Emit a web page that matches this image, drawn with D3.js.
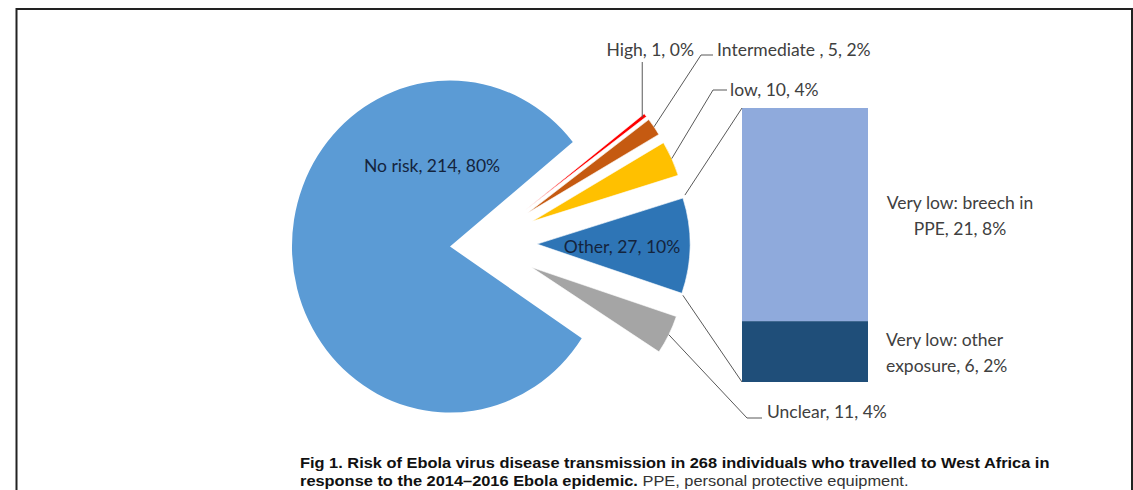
<!DOCTYPE html>
<html>
<head>
<meta charset="utf-8">
<script src="https://cdn.jsdelivr.net/npm/d3@7"></script>
<style>
  html, body { margin: 0; padding: 0; background: #fff; }
  svg { display: block; }
</style>
</head>
<body>
<svg id="chart" width="1133" height="490"></svg>
<script>
// ---------------- data ----------------
const categories = ["High", "Intermediate", "low", "Other", "Unclear", "No risk"];
const counts     = [1, 5, 10, 27, 11, 214];
const percents   = ["0%", "2%", "4%", "10%", "4%", "80%"];
const labelNames = ["High", "Intermediate ", "low", "Other", "Unclear", "No risk"];

const barCategories = ["Very low: other exposure", "Very low: breech in PPE"];
const barCounts     = [6, 21];
const barPercents   = ["2%", "8%"];

const captionBold1 = "Fig 1. Risk of Ebola virus disease transmission in 268 individuals who travelled to West Africa in";
const captionBold2 = "response to the 2014\u20132016 Ebola epidemic.";
const captionNorm2 = " PPE, personal protective equipment.";

// ---------------- styles / layout ----------------
const sliceColors = ["#FF0000", "#C55A11", "#FFC000", "#2E75B6", "#A5A5A5", "#5B9BD5"];
const barColors   = ["#1F4E79", "#8FAADC"];
const deg = Math.PI / 180;

const svg = d3.select("#chart");

// frame
svg.append("rect")
  .attr("x", 16.5).attr("y", 9).attr("width", 1115.5).attr("height", 520)
  .attr("fill", "none").attr("stroke", "#222").attr("stroke-width", 2);

const pie = d3.pie().sort(null).value(d => d.count)
  .startAngle(51 * deg).endAngle(51 * deg + 2 * Math.PI);
const data = categories.map((c, i) => ({ cat: c, count: counts[i], pct: percents[i], name: labelNames[i], color: sliceColors[i] }));
const arcsData = pie(data);

// main slice (No risk)
const mainCx = 450, mainCy = 246.5, mainR = 166, mainSx = 0.952;
const mainG = svg.append("g").attr("transform", `translate(${mainCx},${mainCy}) scale(${mainSx},1)`);
const mainArc = d3.arc().innerRadius(0).outerRadius(mainR);
const mainD = arcsData[5];
mainG.append("path").attr("d", mainArc(mainD)).attr("fill", mainD.data.color);

// small slices
const smCx = 483, smCy = 243.5, smR = 153, explode = 54;
const smallG = svg.append("g").attr("transform", `translate(${smCx},${smCy})`);
const smArc = d3.arc().innerRadius(0).outerRadius(smR);
const polar = (a, r) => [r * Math.sin(a), -r * Math.cos(a)];
const smallArcs = arcsData.slice(0, 5);
smallArcs.forEach(d => {
  const mid = (d.startAngle + d.endAngle) / 2;
  const [ox, oy] = polar(mid, explode);
  d.ox = ox; d.oy = oy;
});
smallG.selectAll("path.slice").data(smallArcs).join("path")
  .attr("class", "slice")
  .attr("transform", d => `translate(${d.ox},${d.oy})`)
  .attr("d", smArc)
  .attr("fill", d => d.data.color)
  .attr("stroke", "#fff").attr("stroke-width", 0.6);

function slicePoint(d, a, r) {
  const [px, py] = polar(a, r);
  return [smCx + d.ox + px, smCy + d.oy + py];
}

// ---------------- bar ----------------
const barX0 = 742, barX1 = 868;
const yBar = d3.scaleLinear().domain([0, d3.sum(barCounts)]).range([382, 108]);
const stackRows = [Object.fromEntries(barCategories.map((c, i) => [c, barCounts[i]]))];
const stacked = d3.stack().keys(barCategories)(stackRows);
svg.append("g").selectAll("rect").data(stacked).join("rect")
  .attr("x", barX0).attr("width", barX1 - barX0)
  .attr("y", d => yBar(d[0][1]))
  .attr("height", d => yBar(d[0][0]) - yBar(d[0][1]))
  .attr("fill", (d, i) => barColors[i]);

// connector lines from "Other" slice to bar
const other = smallArcs[3];
const lineColor = "#595959";
const conn = svg.append("g").attr("stroke", lineColor).attr("stroke-width", 1).attr("fill", "none");
const oTop = slicePoint(other, other.startAngle, smR);
const oBot = slicePoint(other, other.endAngle, smR);
conn.append("line").attr("x1", oTop[0] + 2).attr("y1", oTop[1] - 3).attr("x2", barX0).attr("y2", yBar(d3.sum(barCounts)));
conn.append("line").attr("x1", oBot[0] + 1).attr("y1", oBot[1] + 2).attr("x2", barX0).attr("y2", yBar(0));

// ---------------- labels ----------------
const labelFont = "Lato, 'Open Sans', sans-serif";
const fs = 17.5;
const outColor = "#404040", inColor = "#14243d";
const fmt = d => `${d.data.name}, ${d.data.count}, ${d.data.pct}`;

// inside labels
svg.append("text").attr("x", 432).attr("y", 172).attr("text-anchor", "middle")
  .attr("font-family", labelFont).attr("font-size", fs).attr("fill", inColor)
  .text(fmt(mainD));
svg.append("text").attr("x", 622).attr("y", 253).attr("text-anchor", "middle")
  .attr("font-family", labelFont).attr("font-size", fs).attr("fill", inColor)
  .text(fmt(other));

// leader lines + outside labels
const leaders = svg.append("g").attr("stroke", lineColor).attr("stroke-width", 1).attr("fill", "none");
const high = smallArcs[0], inter = smallArcs[1], low = smallArcs[2], unclear = smallArcs[4];
const midA = d => (d.startAngle + d.endAngle) / 2;

const pH = slicePoint(high, midA(high), smR - 4);
leaders.append("polyline").attr("points", [[pH[0], pH[1]], [pH[0], 62]].join(" "));
svg.append("text").attr("x", 694).attr("y", 56).attr("text-anchor", "end")
  .attr("font-family", labelFont).attr("font-size", fs).attr("fill", outColor).text(fmt(high));

const pI = slicePoint(inter, midA(inter), smR);
leaders.append("polyline").attr("points", [[pI[0], pI[1]], [701, 55], [713, 55]].join(" "));
svg.append("text").attr("x", 717).attr("y", 56)
  .attr("font-family", labelFont).attr("font-size", fs).attr("fill", outColor).text(fmt(inter));

const pL = slicePoint(low, midA(low), smR);
leaders.append("polyline").attr("points", [[pL[0], pL[1]], [713, 90], [727, 90]].join(" "));
svg.append("text").attr("x", 730).attr("y", 96)
  .attr("font-family", labelFont).attr("font-size", fs).attr("fill", outColor).text(fmt(low));

const pU = slicePoint(unclear, midA(unclear), smR);
leaders.append("polyline").attr("points", [[pU[0], pU[1]], [747, 418], [762, 418]].join(" "));
svg.append("text").attr("x", 767).attr("y", 418)
  .attr("font-family", labelFont).attr("font-size", fs).attr("fill", outColor).text(fmt(unclear));

// bar labels
const ppeLbl = svg.append("text").attr("text-anchor", "middle")
  .attr("font-family", labelFont).attr("font-size", fs).attr("fill", outColor);
ppeLbl.append("tspan").attr("x", 960).attr("y", 209).text("Very low: breech in");
ppeLbl.append("tspan").attr("x", 960).attr("y", 235).text(`PPE, ${barCounts[1]}, ${barPercents[1]}`);

const othLbl = svg.append("text")
  .attr("font-family", labelFont).attr("font-size", fs).attr("fill", outColor);
othLbl.append("tspan").attr("x", 886).attr("y", 346).text("Very low: other");
othLbl.append("tspan").attr("x", 886).attr("y", 372).text(`exposure, ${barCounts[0]}, ${barPercents[0]}`);

// ---------------- caption ----------------
const capFont = "'Liberation Sans', Arial, sans-serif";
const cap1 = svg.append("text").attr("font-family", capFont).attr("font-size", 15)
  .attr("font-weight", "bold").attr("fill", "#111").text(captionBold1);
const w1 = cap1.node().getComputedTextLength();
const sx = 750 / w1;
cap1.attr("transform", `translate(300,468) scale(${sx},1)`);

const cap2 = svg.append("text").attr("font-family", capFont).attr("font-size", 15).attr("fill", "#111")
  .attr("transform", `translate(300,485.5) scale(${sx},1)`);
cap2.append("tspan").attr("font-weight", "bold").text(captionBold2);
cap2.append("tspan").attr("fill", "#333").text(captionNorm2);
</script>
</body>
</html>
